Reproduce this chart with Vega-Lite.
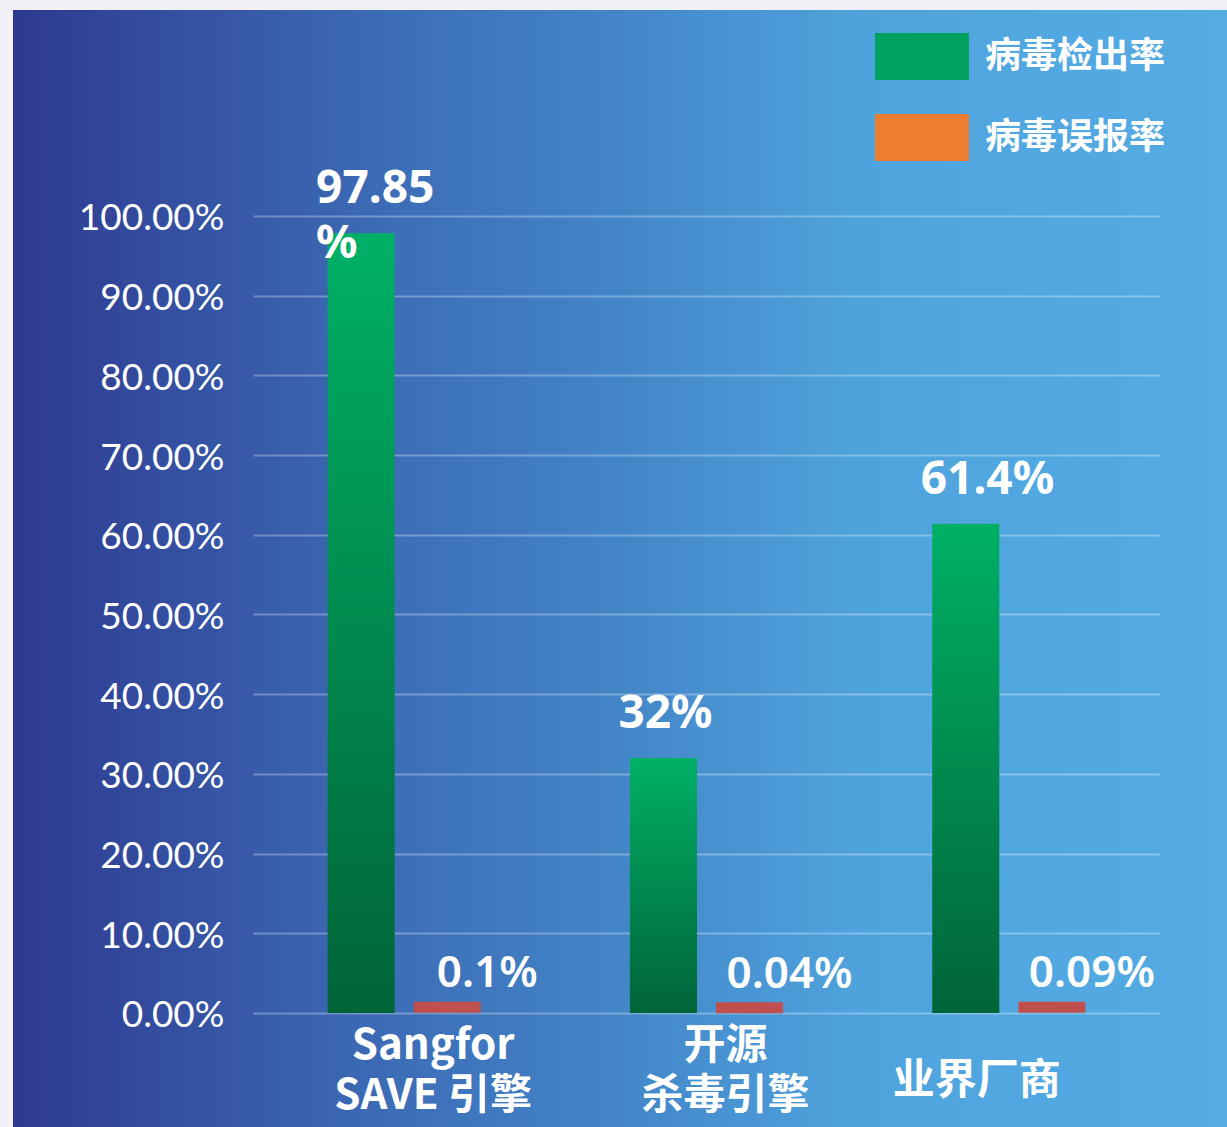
{
  "$schema": "https://vega.github.io/schema/vega-lite/v6.json",
  "width": 1214,
  "height": 1117,
  "autosize": {"type": "none"},
  "padding": {"left": 13, "top": 10, "right": 0, "bottom": 0},
  "background": "#F0F0F6",
  "config": {
    "view": {
      "stroke": null,
      "fill": {
        "gradient": "linear", "x1": 0, "y1": 0, "x2": 1, "y2": 0,
        "stops": [
          {"offset": 0, "color": "#2E3990"},
          {"offset": 0.32, "color": "#3D6EB8"},
          {"offset": 0.48, "color": "#4283C6"},
          {"offset": 0.7, "color": "#4FA3DD"},
          {"offset": 1, "color": "#54ACE3"}
        ]
      }
    }
  },
  "data": {
    "values": [
      {"engine": "Sangfor|SAVE 引擎", "series": "病毒检出率", "value": 97.85, "label": "97.85\n%"},
      {"engine": "Sangfor|SAVE 引擎", "series": "病毒误报率", "value": 0.1, "label": "0.1%"},
      {"engine": "开源|杀毒引擎", "series": "病毒检出率", "value": 32, "label": "32%"},
      {"engine": "开源|杀毒引擎", "series": "病毒误报率", "value": 0.04, "label": "0.04%"},
      {"engine": "业界厂商", "series": "病毒检出率", "value": 61.4, "label": "61.4%"},
      {"engine": "业界厂商", "series": "病毒误报率", "value": 0.09, "label": "0.09%"}
    ]
  },
  "encoding": {
    "x": {
      "field": "engine", "type": "nominal",
      "sort": ["Sangfor|SAVE 引擎", "开源|杀毒引擎", "业界厂商"],
      "scale": {"range": [240, 1147], "paddingInner": 0, "paddingOuter": 0},
      "axis": {
        "title": null,
        "labelExpr": "split(datum.value, '|')",
        "labelAngle": 0,
        "labelFont": "Noto Sans CJK SC",
        "labelFontWeight": "bold",
        "labelFontSize": 42,
        "labelColor": "#ffffff",
        "labelLineHeight": 50,
        "labelBaseline": "middle",
        "labelAlign": "center",
        "labelLimit": 500,
        "labelOverlap": false,
        "labelPadding": {"condition": {"test": "datum.value === '业界厂商'", "value": -47}, "value": -82},
        "labelOffset": {"condition": [{"test": "datum.value === 'Sangfor|SAVE 引擎'", "value": 29}, {"test": "datum.value === '开源|杀毒引擎'", "value": 19}], "value": -32},
        "ticks": false,
        "tickSize": 0,
        "domain": false,
        "grid": false
      }
    },
    "xOffset": {
      "field": "series", "type": "nominal",
      "scale": {"domain": ["病毒检出率", "病毒误报率"], "paddingInner": 0.221, "paddingOuter": 0.866}
    },
    "y": {
      "field": "value", "type": "quantitative",
      "scale": {"domain": [-14.304, 125.847], "nice": false, "zero": false},
      "axis": {
        "title": null,
        "values": [0, 10, 20, 30, 40, 50, 60, 70, 80, 90, 100],
        "labelExpr": "format(datum.value, '.2f') + '%'",
        "labelFont": "Lato",
        "labelFontSize": 37,
        "labelColor": "#ffffff",
        "labelAlign": "right",
        "labelBaseline": "middle",
        "labelPadding": -211,
        "labelOffset": 3,
        "ticks": false,
        "tickSize": 0,
        "domain": false,
        "grid": true,
        "gridColor": "#ffffff",
        "gridOpacity": 0.3,
        "gridWidth": 2
      }
    }
  },
  "layer": [
    {
      "transform": [{"filter": "false"}],
      "mark": {"type": "bar"},
      "encoding": {
        "color": {
          "field": "series", "type": "nominal",
          "scale": {"domain": ["病毒检出率", "病毒误报率"], "range": ["#00A05E", "#ED7D31"]},
          "legend": {
            "orient": "none",
            "legendX": 885.5,
            "legendY": 23,
            "title": null,
            "padding": 0,
            "symbolType": "M-2,-1H2V1H-2Z",
            "symbolSize": 2209,
            "symbolStrokeWidth": 0,
            "symbolOpacity": 1,
            "labelFont": "Noto Sans CJK SC",
            "labelFontWeight": "bold",
            "labelFontSize": 36,
            "labelColor": "#ffffff",
            "labelLimit": 400,
            "labelOffset": 39.5,
            "rowPadding": 34
          }
        }
      }
    },
    {
      "transform": [{"filter": "datum.series === '病毒检出率'"}],
      "mark": {"type": "bar"},
      "encoding": {
        "color": {
          "value": {
            "gradient": "linear", "x1": 0, "y1": 0, "x2": 0, "y2": 1,
            "stops": [
              {"offset": 0, "color": "#00B066"},
              {"offset": 1, "color": "#006438"}
            ]
          }
        }
      }
    },
    {
      "transform": [{"filter": "datum.series === '病毒误报率'"}],
      "mark": {"type": "tick", "orient": "horizontal", "thickness": 11, "size": 67, "yOffset": -5, "opacity": 1},
      "encoding": {"color": {"value": "#C0504D"}}
    },
    {
      "transform": [{"filter": "datum.series === '病毒检出率'"}],
      "mark": {
        "type": "text", "font": "Noto Sans", "fontWeight": "bold", "fontSize": 46,
        "color": "#ffffff", "align": "left", "baseline": "alphabetic",
        "dx": -45, "dy": -30, "lineBreak": "\n", "lineHeight": 55
      },
      "encoding": {"text": {"field": "label"}}
    },
    {
      "transform": [{"filter": "datum.series === '病毒误报率'"}],
      "mark": {
        "type": "text", "font": "Noto Sans", "fontWeight": 600, "fontSize": 44,
        "color": "#ffffff", "align": "center", "baseline": "alphabetic",
        "dx": 40, "dy": -25
      },
      "encoding": {"text": {"field": "label"}}
    }
  ]
}
